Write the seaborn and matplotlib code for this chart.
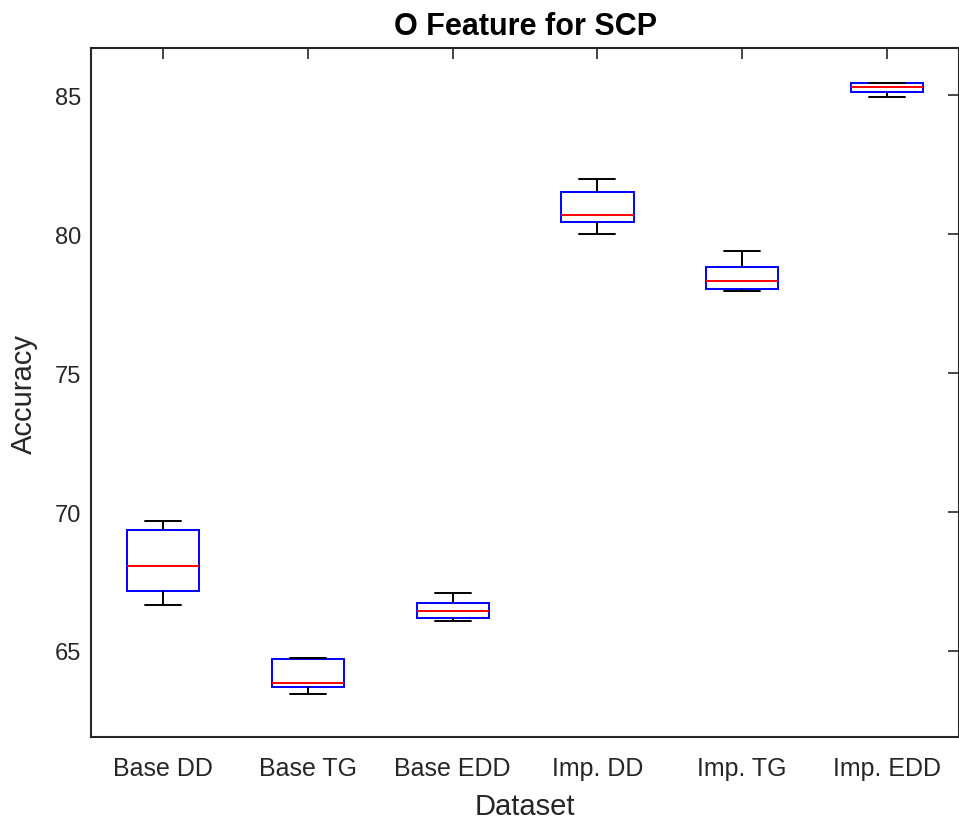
import matplotlib
matplotlib.use("Agg")
import matplotlib.pyplot as plt
import seaborn as sns
import pandas as pd

categories = ["Base DD", "Base TG", "Base EDD", "Imp. DD", "Imp. TG", "Imp. EDD"]
# five-number summaries: min, q1, median, q3, max
base_dd = [66.64, 67.14, 68.07, 69.36, 69.68]
base_tg = [63.46, 63.71, 63.86, 64.71, 64.75]
base_edd = [66.07, 66.18, 66.43, 66.71, 67.07]
imp_dd = [80.00, 80.46, 80.71, 81.54, 82.00]
imp_tg = [77.96, 78.04, 78.32, 78.82, 79.39]
imp_edd = [84.93, 85.11, 85.29, 85.46, 85.46]
yticks = [65, 70, 75, 80, 85]

series = [base_dd, base_tg, base_edd, imp_dd, imp_tg, imp_edd]
rows = []
for cat, vals in zip(categories, series):
    for v in vals:
        rows.append({"Dataset": cat, "Accuracy": v})
df = pd.DataFrame(rows)

sns.set_theme(style="white")
plt.rcParams["font.family"] = ["Liberation Sans", "DejaVu Sans"]
txt = "#262626"

fig = plt.figure(figsize=(9.59, 8.20), dpi=100)
ax = fig.add_axes([91 / 959, 0.10, 868 / 959, 0.84])

sns.boxplot(
    data=df, x="Dataset", y="Accuracy", order=categories, ax=ax,
    whis=(0, 100), width=0.5, color="white", linewidth=1.4,
    boxprops=dict(facecolor="none", edgecolor="blue"),
    medianprops=dict(color="red"),
    whiskerprops=dict(color="black"),
    capprops=dict(color="black"),
    showfliers=False,
)

ax.set_xlim(-0.5, 5.5)
ax.set_ylim(61.9, 86.7)
ax.set_yticks(yticks)
ax.set_yticklabels([str(t) for t in yticks])
ax.tick_params(axis="both", direction="in", length=8, width=1.2, colors=txt,
               top=True, right=True)
ax.tick_params(axis="x", labelsize=18, pad=14)
ax.tick_params(axis="y", labelsize=17, pad=7)
for s in ax.spines.values():
    s.set_color(txt)
    s.set_linewidth(1.5)
    s.set_visible(True)

ax.set_xlabel("Dataset", fontsize=21, color=txt, labelpad=8)
ax.set_ylabel("Accuracy", fontsize=21, color=txt, labelpad=12)
ax.set_title("O Feature for SCP", fontsize=22, fontweight="bold", color="black", pad=10)

fig.savefig("out.png", dpi=100)
